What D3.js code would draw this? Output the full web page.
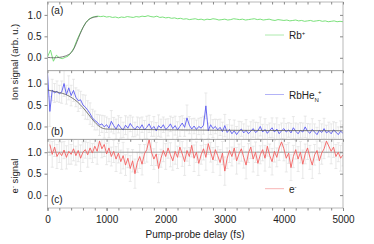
<!DOCTYPE html>
<html><head><meta charset="utf-8">
<script src="https://cdn.jsdelivr.net/npm/d3@7"></script>
<style>html,body{margin:0;padding:0;background:#fff;}svg{display:block;font-family:"Liberation Sans",Arial,sans-serif;}</style>
</head><body><svg id="c" width="374" height="244"></svg>
<script>
// ---- data ----
const xTicks = [0, 1000, 2000, 3000, 4000, 5000];
const yTicks = [0.0, 0.5, 1.0];
// Rb+ (panel a), delays 0..5000 step 50 fs
const rbT0 = 0, rbDt = 50;
const rbSignal = [
  0.02, 0.18, -0.08, 0.06, 0.00, -0.02, 0.01, 0.04, 0.12, 0.24,
  0.42, 0.57, 0.71, 0.82, 0.90, 0.94, 0.96, 0.97, 0.96, 0.97,
  0.95, 0.96, 0.94, 0.95, 0.93, 0.95, 0.94, 0.96, 0.95, 0.94,
  0.96, 0.95, 0.97, 0.96, 0.98, 0.96, 0.95, 0.97, 0.94, 0.95,
  0.93, 0.94, 0.92, 0.93, 0.91, 0.92, 0.90, 0.91, 0.89, 0.90,
  0.91, 0.89, 0.90, 0.88, 0.90, 0.89, 0.91, 0.90, 0.88, 0.89,
  0.90, 0.88, 0.89, 0.91, 0.90, 0.89, 0.90, 0.88, 0.89, 0.90,
  0.91, 0.89, 0.90, 0.88, 0.89, 0.90, 0.88, 0.87, 0.89, 0.88,
  0.87, 0.88, 0.86, 0.87, 0.88, 0.86, 0.87, 0.85, 0.86, 0.87,
  0.85, 0.86, 0.87, 0.85, 0.86, 0.84, 0.85, 0.86, 0.84, 0.85,
  0.84];
const rbFitX = [0, 100, 200, 300, 350, 400, 450, 500, 550, 600, 650, 700, 750, 800, 850];
const rbFitY = [0.01, 0.00, 0.01, 0.04, 0.07, 0.12, 0.22, 0.38, 0.55, 0.70, 0.82, 0.89, 0.93, 0.95, 0.96];

// RbHe_N+ (panel b), delays 0..5000 step 40 fs
const heT0 = 0, heDt = 40;
const heSignal = [
  1.25, 0.35, 0.85, 0.78, 0.82, 0.76, 0.80, 1.00, 0.74, 0.90,
  0.72, 0.84, 0.68, 0.60, 0.62, 0.50, 0.45, 0.38, 0.30, 0.20,
  0.14, 0.10, 0.03, 0.06, -0.01, 0.04, -0.04, 0.12, 0.02, -0.06,
  0.05, -0.03, -0.08, 0.03, -0.04, 0.07, -0.01, -0.07, 0.01, -0.05,
  0.04, -0.08, -0.02, 0.06, -0.06, 0.00, -0.10, 0.02, -0.04, 0.04,
  -0.07, -0.02, 0.06, -0.05, 0.02, -0.08, 0.00, 0.08, -0.02, 0.20,
  0.03, -0.06, 0.01, -0.07, 0.00, -0.04, 0.03, 0.48, -0.10, 0.04,
  -0.05, 0.00, -0.08, -0.02, -0.12, 0.02, -0.14, -0.07, -0.17, -0.10,
  -0.19, -0.11, -0.06, -0.15, -0.09, -0.17, -0.11, -0.05, -0.14, -0.10,
  0.00, -0.13, -0.07, -0.16, -0.09, -0.03, -0.13, -0.06, -0.17, -0.10,
  -0.05, -0.13, -0.08, -0.15, -0.03, -0.11, -0.17, -0.09, -0.13, -0.01,
  -0.11, -0.16, -0.07, -0.13, -0.19, -0.09, -0.14, -0.05, -0.15, -0.11,
  -0.17, -0.08, -0.13, -0.19, -0.11, -0.16];
const heError = [
  .30,.35,.25,.22,.24,.20,.26,.30,.22,.28,
  .24,.26,.22,.25,.20,.24,.28,.22,.25,.20,
  .22,.18,.24,.20,.26,.18,.22,.25,.19,.23,
  .20,.24,.18,.22,.26,.19,.23,.17,.21,.25,
  .18,.22,.26,.20,.17,.23,.19,.25,.21,.18,
  .24,.20,.18,.26,.22,.19,.23,.17,.21,.30,
  .20,.24,.18,.22,.19,.25,.21,.30,.18,.23,
  .21,.17,.24,.19,.22,.26,.18,.23,.20,.25,
  .19,.23,.17,.21,.25,.18,.22,.20,.24,.19,
  .22,.18,.25,.20,.17,.23,.19,.26,.21,.18,
  .24,.20,.17,.22,.26,.19,.23,.18,.21,.25,
  .18,.22,.25,.19,.17,.23,.20,.24,.18,.21,
  .23,.19,.22,.18,.24,.20];
const heFitX = [0, 100, 200, 300, 400, 500, 600, 700, 800, 900, 1000, 1200, 5000];
const heFitY = [0.85, 0.82, 0.79, 0.75, 0.68, 0.58, 0.44, 0.27, 0.10, -0.02, -0.06, -0.065, -0.10];

// electrons (panel c), delays 40..5000 step 40 fs
const eT0 = 40, eDt = 40;
const eSignal = [
  1.18, 0.95, 1.12, 0.90, 1.00, 0.92, 1.05, 0.88, 1.02, 0.95,
  1.08, 0.92, 1.04, 0.86, 1.00, 1.06, 0.94, 1.10, 0.98, 1.14,
  1.02, 1.26, 1.08, 1.18, 0.96, 1.10, 0.90, 1.02, 0.84, 0.98,
  0.78, 0.92, 0.70, 0.86, 0.62, 0.80, 0.50, 0.76, 0.90, 0.72,
  0.96, 1.06, 1.30, 1.00, 0.84, 0.96, 0.62, 0.86, 1.04, 0.90,
  1.10, 0.94, 0.80, 1.02, 0.88, 1.12, 0.96, 0.78, 1.04, 0.90,
  1.16, 0.86, 1.00, 0.74, 0.94, 1.08, 0.88, 1.20, 1.00, 0.82,
  1.06, 0.92, 0.76, 0.98, 0.56, 0.86, 1.04, 0.90, 1.10, 0.80,
  0.96, 1.08, 0.88, 0.70, 0.98, 1.12, 0.84, 1.00, 0.74, 0.94,
  1.06, 0.86, 1.14, 0.92, 0.78, 1.02, 0.88, 1.10, 1.24, 1.08,
  0.86, 0.98, 0.64, 0.90, 1.06, 0.84, 1.00, 0.72, 0.96, 1.10,
  0.88, 0.70, 0.94, 1.04, 0.80, 0.98, 1.08, 1.26, 1.14, 1.02,
  1.12, 0.90, 1.00, 0.86, 0.94];
const eError = [
  .25,.30,.22,.28,.24,.32,.20,.27,.30,.23,
  .28,.22,.26,.31,.24,.20,.29,.25,.22,.27,
  .30,.24,.21,.28,.25,.32,.22,.26,.29,.23,
  .27,.31,.24,.22,.30,.26,.34,.23,.28,.25,
  .22,.29,.25,.31,.24,.27,.33,.21,.26,.30,
  .24,.28,.22,.30,.26,.23,.29,.32,.25,.21,
  .27,.31,.24,.28,.22,.26,.30,.25,.23,.29,
  .25,.21,.30,.27,.33,.24,.28,.22,.26,.31,
  .23,.29,.25,.32,.22,.27,.30,.24,.28,.21,
  .26,.30,.23,.27,.31,.25,.22,.29,.24,.28,
  .32,.24,.30,.26,.22,.29,.25,.33,.23,.27,
  .28,.31,.24,.22,.30,.26,.23,.27,.25,.29,
  .24,.28,.22,.30,.26];
const eRefLevel = [1.0];

// ---- drawing ----
const svg = d3.select("#c");
const frameCol = "#a8a8a8", tickCol = "#888", txtCol = "#222";
const x = d3.scaleLinear().domain([0, 5000]).range([47.5, 343]);
const panelH = 68.67, top0 = 2;
const yDomain = [-0.3, 1.3];
const minor = d3.range(0, 5001, 200);

function pts(t0, dt, vals, errs) {
  return vals.map((v, i) => ({ t: t0 + i * dt, v, e: errs ? errs[i] : 0 }));
}

const panels = [
  { id: "a", data: pts(rbT0, rbDt, rbSignal), color: "#6cdc6c", fitX: rbFitX, fitY: rbFitY, lab: "(a)", labY: 14 },
  { id: "b", data: pts(heT0, heDt, heSignal, heError), color: "#5a5af2", fitX: heFitX, fitY: heFitY, lab: "(b)", labY: 134.5 },
  { id: "c", data: pts(eT0, eDt, eSignal, eError), color: "#f46060", ref: eRefLevel, lab: "(c)", labY: 202.5 }
];

panels.forEach((p, k) => {
  const t = top0 + k * panelH, b = t + panelH;
  const y = d3.scaleLinear().domain(yDomain).range([b, t]);
  const g = svg.append("g");
  const clipId = "clip" + p.id;
  svg.append("clipPath").attr("id", clipId).append("rect")
    .attr("x", x(0)).attr("y", t).attr("width", x(5000) - x(0)).attr("height", panelH);
  const inner = g.append("g").attr("clip-path", `url(#${clipId})`);

  // error bars
  const eb = p.data.filter(d => d.e > 0);
  inner.append("g").selectAll("path").data(eb).join("path")
    .attr("d", d => {
      const X = x(d.t), y1 = y(d.v - d.e), y2 = y(d.v + d.e);
      return `M${X},${y1}V${y2}M${X - 1.5},${y1}H${X + 1.5}M${X - 1.5},${y2}H${X + 1.5}`;
    })
    .attr("stroke", "#e0e0e0").attr("stroke-width", 0.7).attr("fill", "none");

  // reference line
  if (p.ref) {
    inner.selectAll("line.ref").data(p.ref).join("line").attr("class", "ref")
      .attr("x1", x(0)).attr("x2", x(5000)).attr("y1", d => y(d)).attr("y2", d => y(d))
      .attr("stroke", "#888").attr("stroke-width", 0.8);
  }

  const line = d3.line().x(d => x(d.t)).y(d => y(d.v));
  inner.append("path").datum(p.data).attr("d", line)
    .attr("fill", "none").attr("stroke", p.color).attr("stroke-width", 0.9);

  if (p.fitX) {
    const fit = p.fitX.map((tt, i) => ({ t: tt, v: p.fitY[i] }));
    inner.append("path").datum(fit).attr("d", d3.line().x(d => x(d.t)).y(d => y(d.v)).curve(d3.curveMonotoneX))
      .attr("fill", "none").attr("stroke", "#5a5a5a").attr("stroke-width", 0.8);
  }

  // frame
  g.append("rect").attr("x", x(0)).attr("y", t).attr("width", x(5000) - x(0)).attr("height", panelH)
    .attr("fill", "none").attr("stroke", frameCol).attr("stroke-width", 0.8);

  // left axis
  const la = g.append("g").attr("transform", `translate(${x(0)},0)`)
    .call(d3.axisLeft(y).tickValues(yTicks).tickSize(3).tickPadding(3).tickFormat(d3.format(".1f")));
  la.select(".domain").remove();
  la.selectAll("line").attr("stroke", tickCol);
  la.selectAll("text").attr("fill", txtCol).style("font-size", "10px").style("font-family", "Liberation Sans, Arial, sans-serif");
  // right axis (inward)
  const ra = g.append("g").attr("transform", `translate(${x(5000)},0)`)
    .call(d3.axisLeft(y).tickValues(yTicks).tickSize(3).tickFormat(""));
  ra.select(".domain").remove();
  ra.selectAll("line").attr("stroke", tickCol);
  // top ticks (inward)
  const ta = g.append("g").attr("transform", `translate(0,${t})`)
    .call(d3.axisBottom(x).tickValues(minor).tickSize(2.5).tickFormat(""));
  ta.select(".domain").remove();
  ta.selectAll("line").attr("stroke", tickCol);

  // panel label
  g.append("text").attr("x", 51).attr("y", p.labY).text(p.lab)
    .attr("fill", txtCol).style("font-size", "10px");

  if (k === 2) {
    const ba = g.append("g").attr("transform", `translate(0,${b})`)
      .call(d3.axisBottom(x).tickValues(minor).tickSize(2.5).tickFormat(""));
    ba.select(".domain").remove();
    ba.selectAll("line").attr("stroke", tickCol);
    const bl = g.append("g").attr("transform", `translate(0,${b})`)
      .call(d3.axisBottom(x).tickValues(xTicks).tickSize(3).tickPadding(5).tickFormat(d3.format("d")));
    bl.select(".domain").remove();
    bl.selectAll("line").attr("stroke", tickCol);
    bl.selectAll("text").attr("fill", txtCol).style("font-size", "10px").style("font-family", "Liberation Sans, Arial, sans-serif");
  }
});

// legends
function legend(yLine, col) {
  svg.append("line").attr("x1", 265).attr("x2", 284).attr("y1", yLine).attr("y2", yLine)
    .attr("stroke", col).attr("stroke-width", 0.8);
}
legend(35, "#9be59b");
svg.append("text").attr("x", 289).attr("y", 39).attr("fill", txtCol).style("font-size", "10px")
  .call(s => { s.append("tspan").text("Rb"); s.append("tspan").attr("dy", -4).style("font-size", "6px").text("+"); });
legend(94.5, "#a0a0f5");
svg.append("text").attr("x", 289).attr("y", 98.5).attr("fill", txtCol).style("font-size", "10px")
  .call(s => {
    s.append("tspan").text("RbHe");
    s.append("tspan").attr("dy", 3).style("font-size", "6px").text("N");
    s.append("tspan").attr("dy", -8).attr("dx", -1).style("font-size", "6px").text("+");
  });
legend(188.7, "#f5a0a0");
svg.append("text").attr("x", 289).attr("y", 193).attr("fill", txtCol).style("font-size", "10px")
  .call(s => { s.append("tspan").text("e"); s.append("tspan").attr("dy", -4).style("font-size", "6px").text("-"); });

// axis titles
svg.append("text").attr("transform", "translate(18,62) rotate(-90)").attr("text-anchor", "middle")
  .attr("fill", txtCol).style("font-size", "9.5px").text("Ion signal (arb. u.)");
svg.append("text").attr("transform", "translate(18,176) rotate(-90)").attr("text-anchor", "middle")
  .attr("fill", txtCol).style("font-size", "9.5px")
  .call(s => { s.append("tspan").text("e"); s.append("tspan").attr("dy", -3).style("font-size", "6px").text("-"); s.append("tspan").attr("dy", 3).text(" signal"); });
svg.append("text").attr("x", 195).attr("y", 238).attr("text-anchor", "middle")
  .attr("fill", txtCol).style("font-size", "10px").text("Pump-probe delay (fs)");
</script></body></html>
